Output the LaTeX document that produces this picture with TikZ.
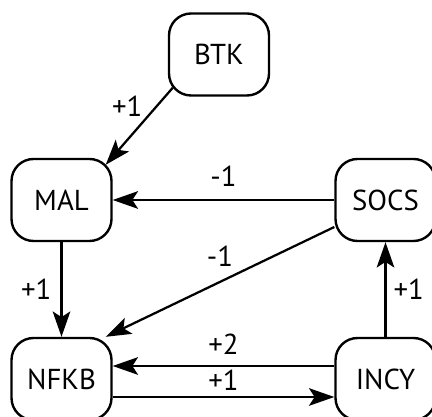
\documentclass[tikz,border=0pt]{standalone}
\usepackage{fontspec}
\setmainfont{PT Sans}
\usetikzlibrary{arrows.meta, positioning}

\tikzset{
  gene/.style={draw, rounded corners=0.55cm, line width=1.7pt,
    minimum width=2.5cm, minimum height=2.05cm, inner sep=0pt,
    font=\fontsize{20.5}{24}\selectfont},
  link/.style={-{Stealth[length=18pt, width=12.5pt, inset=4pt]}, line width=1.6pt},
  weight/.style={font=\fontsize{20.5}{24}\selectfont, inner sep=0pt}
}

\begin{document}
\begin{tikzpicture}
  \useasboundingbox (0,0) rectangle (10.8,10.425);

  % signalling species
  \node[gene] (btk)  at (5.475, 9.0625) {BTK};
  \node[gene] (mal)  at (1.5375, 5.425) {MAL};
  \node[gene] (socs) at (9.6375, 5.425) {SOCS};
  \node[gene] (nfkb) at (1.5375, 0.95)  {NFKB};
  \node[gene] (incy) at (9.6375, 0.95)  {INCY};

  % weighted interactions
  \draw[link] ([shift={(0.125,0.225)}]btk.south west) --
    node[weight, midway, xshift=-0.3cm, yshift=0.49cm] {+1}
    ([shift={(-0.175,-0.175)}]mal.north east);
  \draw[link] (socs) -- node[weight, midway, above=0.3cm] {-1} (mal);
  \draw[link] (mal) -- node[weight, midway, left=0.225cm] {+1} (nfkb);
  \draw[link] ([yshift=-0.675cm]socs.west) --
    node[weight, midway, above=0.35cm] {-1}
    ([xshift=-0.175cm]nfkb.north east);
  \draw[link] (incy) -- node[weight, midway, right=0.175cm] {+1} (socs);
  \draw[link] ([yshift=0.325cm]incy.west) --
    node[weight, midway, above=0.25cm] {+2} ([yshift=0.325cm]nfkb.east);
  \draw[link] ([yshift=-0.45cm]nfkb.east) --
    node[weight, midway, above=0.125cm] {+1} ([yshift=-0.45cm]incy.west);
\end{tikzpicture}
\end{document}
